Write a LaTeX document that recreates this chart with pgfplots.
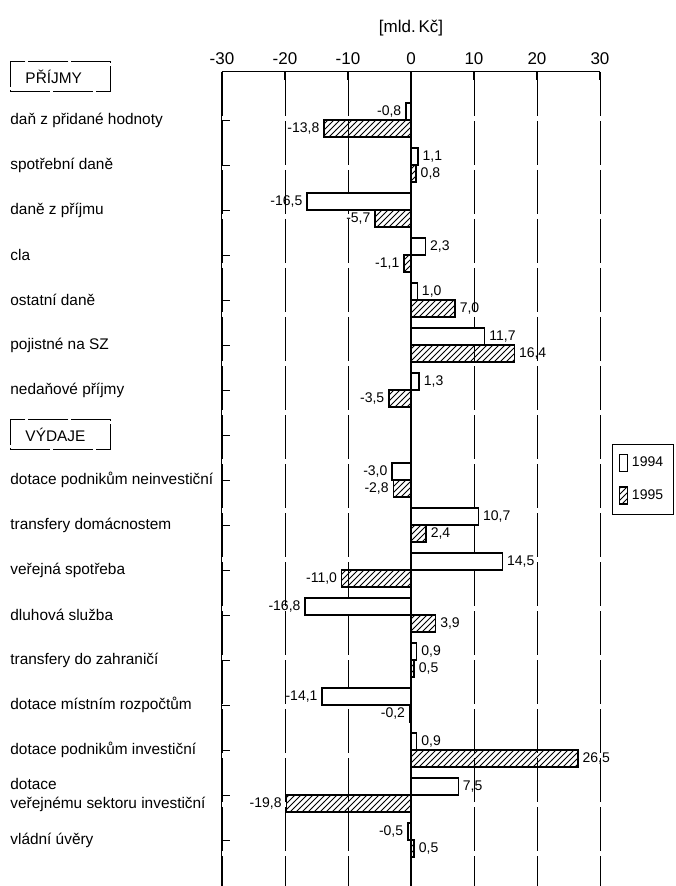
\documentclass[border=0pt]{standalone}
\usepackage{fontspec}
\setmainfont{Liberation Sans}
\usepackage{pgfplots}
\pgfplotsset{compat=1.18}
\usetikzlibrary{patterns}
\pgfplotsset{smallbarlegend/.style={legend image code/.code={\draw[##1] (0pt,-4.25pt) rectangle (4pt,4.25pt);}}}
\begin{document}
\begin{tikzpicture}
\useasboundingbox (-111pt,0pt) rectangle (226.5pt,443pt);
\begin{axis}[
  at={(0pt,0pt)}, anchor=south west,
  scale only axis, width=189pt, height=407pt,
  xbar, bar width=8.5pt,
  xmin=-30, xmax=30, ymin=-0.067, ymax=18.02,
  y dir=reverse,
  axis x line*=top, axis y line*=left,
  axis line style={line width=0.5pt},
  xtick={-30,-20,...,30},
  ytick={1,2,3,4,5,6,7,8,9,10,11,12,13,14,15,16,17},
  yticklabels={daň z přidané hodnoty, spotřební daně, daně z příjmu, cla, ostatní daně, pojistné na SZ, nedaňové příjmy, {}, dotace podnikům neinvestiční, transfery domácnostem, veřejná spotřeba, dluhová služba, transfery do zahraničí, dotace místním rozpočtům, dotace podnikům investiční, {dotace\\veřejnému sektoru investiční}, vládní úvěry},
  yticklabel style={anchor=west, xshift=-106pt, inner sep=0pt, align=left, font=\fontsize{7.7}{9.5}\selectfont},
  xticklabel style={font=\fontsize{8.5}{10}\selectfont},
  tick align=inside, major tick length=4pt,
  tick style={black, line width=0.5pt},
  xmajorgrids, major grid style={black, line width=0.4pt, dash pattern=on 22pt off 2.5pt},
  extra x ticks={0}, extra x tick labels={}, extra x tick style={major grid style={black, line width=0.6pt, solid}},
  /pgf/number format/assume math mode=true,
  point meta=x,
  nodes near coords={\pgfmathprintnumber[fixed,fixed zerofill,precision=1,use comma,assume math mode=true]{\pgfplotspointmeta}},
  nodes near coords align={horizontal},
  every node near coord/.append style={font=\fontsize{7}{8}\selectfont, inner sep=2pt},
  legend style={at={(1.032,0.543)}, anchor=north west, draw=black, line width=0.5pt, font=\fontsize{7}{8}\selectfont, inner xsep=3pt, inner ysep=4pt, row sep=6pt, cells={anchor=west}},
]
\addplot[draw=black, fill=white, line width=0.7pt, bar shift=4.25pt, smallbarlegend] coordinates {
 (-0.8,1) (1.1,2) (-16.5,3) (2.3,4) (1.0,5) (11.7,6) (1.3,7)
 (-3.0,9) (10.7,10) (14.5,11) (-16.8,12) (0.9,13) (-14.1,14) (0.9,15) (7.5,16) (-0.5,17)};
\addlegendentry{1994}
\addplot[draw=black, pattern=north east lines, line width=0.7pt, bar shift=-4.25pt, smallbarlegend] coordinates {
 (-13.8,1) (0.8,2) (-5.7,3) (-1.1,4) (7.0,5) (16.4,6) (-3.5,7)
 (-2.8,9) (2.4,10) (-11.0,11) (3.9,12) (0.5,13) (-0.2,14) (26.5,15) (-19.8,16) (0.5,17)};
\addlegendentry{1995}
\end{axis}
\node[font=\fontsize{8.5}{10}\selectfont] at (94.5pt,429pt) {[mld.\,Kč]};
\node[draw, line width=0.5pt, dash pattern=on 20pt off 1.5pt, anchor=west, text width=35pt, inner xsep=7.5pt, inner ysep=0pt, minimum height=15pt, align=left, font=\fontsize{7.7}{9}\selectfont] at (-106pt,404.5pt) {PŘÍJMY};
\node[draw, line width=0.5pt, dash pattern=on 20pt off 1.5pt, anchor=west, text width=35pt, inner xsep=7.5pt, inner ysep=0pt, minimum height=15pt, align=left, font=\fontsize{7.7}{9}\selectfont] at (-106pt,225.5pt) {VÝDAJE};
\end{tikzpicture}
\end{document}
